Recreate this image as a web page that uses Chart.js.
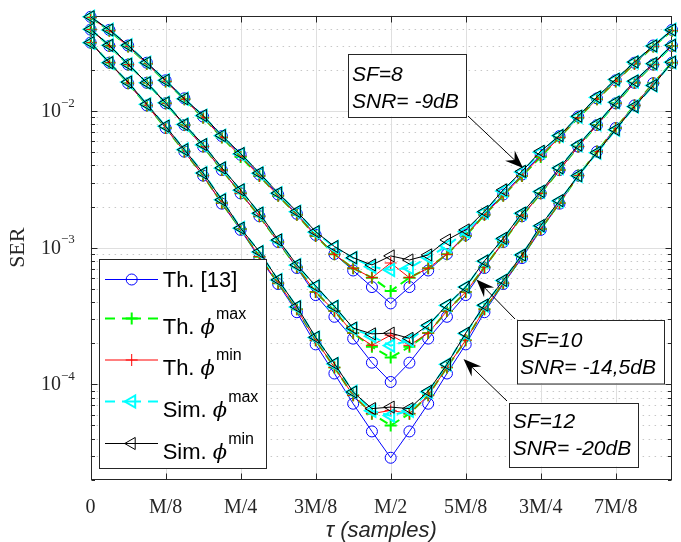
<!DOCTYPE html>
<html><head><meta charset="utf-8">
<script src="https://cdn.jsdelivr.net/npm/chart.js@4.4.0/dist/chart.umd.min.js"></script>
<style>html,body{margin:0;padding:0;background:#fff;}#wrap{width:681px;height:542px;position:relative;}</style>
</head><body><div id="wrap"><canvas id="c" width="681" height="542"></canvas></div>
<script>
// ---- categories: tau in units of M/32 ----
const TAU = [0,1,2,3,4,5,6,7,8,9,10,11,12,13,14,15,16,17,18,19,20,21,22,23,24,25,26,27,28,29,30,31];
const X_TICK_VALUES = [0,4,8,12,16,20,24,28];
const X_TICK_LABELS = ['0','M/8','M/4','3M/8','M/2','5M/8','3M/4','7M/8'];
const Y_DECADES = [1e-4,1e-3,1e-2];
const Y_DECADE_EXP = ['\u22124','\u22123','\u22122'];
const Y_MIN = 2e-5, Y_MAX = 5e-2;

// ---- SF=8, SNR=-9dB ----
const SF8_TH_REF = [4.9e-2,3.93e-2,3.02e-2,2.26e-2,1.68e-2,1.24e-2,9.12e-3,6.56e-3,4.79e-3,3.43e-3,2.45e-3,1.77e-3,1.24e-3,8.99e-4,6.81e-4,5.15e-4,3.91e-4,5.15e-4,6.81e-4,8.99e-4,1.24e-3,1.77e-3,2.45e-3,3.43e-3,4.79e-3,6.56e-3,9.12e-3,1.24e-2,1.68e-2,2.26e-2,3.02e-2,3.93e-2];
const SF8_TH_MAX = [4.85e-2,3.88e-2,2.97e-2,2.22e-2,1.65e-2,1.22e-2,8.95e-3,6.42e-3,4.62e-3,3.35e-3,2.40e-3,1.74e-3,1.22e-3,8.95e-4,7.08e-4,6.03e-4,4.82e-4,6.03e-4,7.08e-4,8.95e-4,1.22e-3,1.74e-3,2.40e-3,3.35e-3,4.62e-3,6.42e-3,8.95e-3,1.22e-2,1.65e-2,2.22e-2,2.97e-2,3.88e-2];
const SF8_TH_MIN = [4.85e-2,3.88e-2,2.97e-2,2.22e-2,1.65e-2,1.22e-2,8.95e-3,6.42e-3,4.68e-3,3.35e-3,2.40e-3,1.74e-3,1.22e-3,8.95e-4,7.08e-4,6.03e-4,7.73e-4,6.03e-4,7.08e-4,8.95e-4,1.22e-3,1.74e-3,2.40e-3,3.35e-3,4.68e-3,6.42e-3,8.95e-3,1.22e-2,1.65e-2,2.22e-2,2.97e-2,3.88e-2];
const SF8_SIM_MAX = [4.9e-2,3.93e-2,3.03e-2,2.26e-2,1.68e-2,1.23e-2,9.25e-3,6.60e-3,4.85e-3,3.50e-3,2.50e-3,1.83e-3,1.30e-3,1.01e-3,8.40e-4,7.26e-4,6.87e-4,7.11e-4,8.50e-4,1.03e-3,1.31e-3,1.82e-3,2.60e-3,3.58e-3,5.00e-3,6.60e-3,9.10e-3,1.26e-2,1.70e-2,2.28e-2,3.00e-2,3.93e-2];
const SF8_SIM_MIN = [4.9e-2,3.93e-2,3.03e-2,2.26e-2,1.68e-2,1.23e-2,9.29e-3,6.62e-3,4.89e-3,3.52e-3,2.51e-3,1.84e-3,1.31e-3,1.02e-3,8.45e-4,7.48e-4,8.71e-4,8.13e-4,8.85e-4,1.14e-3,1.35e-3,1.84e-3,2.65e-3,3.62e-3,5.08e-3,6.62e-3,9.18e-3,1.27e-2,1.71e-2,2.29e-2,3.00e-2,3.93e-2];

// ---- SF=10, SNR=-14,5dB ----
const SF10_TH_REF = [3.95e-2,3.0e-2,2.19e-2,1.61e-2,1.14e-2,7.9e-3,5.5e-3,3.70e-3,2.50e-3,1.70e-3,1.10e-3,7.1e-4,4.5e-4,3.12e-4,2.16e-4,1.44e-4,1.04e-4,1.44e-4,2.16e-4,3.12e-4,4.5e-4,7.1e-4,1.10e-3,1.70e-3,2.50e-3,3.70e-3,5.5e-3,7.9e-3,1.14e-2,1.61e-2,2.19e-2,3.0e-2];
const SF10_TH_MAX = [3.95e-2,3.0e-2,2.19e-2,1.61e-2,1.14e-2,7.9e-3,5.5e-3,3.70e-3,2.50e-3,1.70e-3,1.10e-3,7.2e-4,4.74e-4,3.44e-4,2.37e-4,1.88e-4,1.57e-4,1.88e-4,2.37e-4,3.44e-4,4.74e-4,7.2e-4,1.10e-3,1.70e-3,2.50e-3,3.70e-3,5.5e-3,7.9e-3,1.14e-2,1.61e-2,2.19e-2,3.0e-2];
const SF10_TH_MIN = [3.95e-2,3.0e-2,2.19e-2,1.61e-2,1.14e-2,7.9e-3,5.5e-3,3.70e-3,2.50e-3,1.70e-3,1.10e-3,7.2e-4,4.74e-4,3.44e-4,2.37e-4,1.93e-4,2.29e-4,1.93e-4,2.37e-4,3.44e-4,4.74e-4,7.2e-4,1.10e-3,1.70e-3,2.50e-3,3.70e-3,5.5e-3,7.9e-3,1.14e-2,1.61e-2,2.19e-2,3.0e-2];
const SF10_SIM_MAX = [3.97e-2,3.03e-2,2.20e-2,1.61e-2,1.15e-2,7.98e-3,5.65e-3,3.82e-3,2.63e-3,1.78e-3,1.13e-3,7.45e-4,5.20e-4,3.70e-4,2.55e-4,2.25e-4,1.92e-4,2.10e-4,2.68e-4,3.78e-4,5.15e-4,7.95e-4,1.16e-3,1.78e-3,2.57e-3,3.83e-3,5.62e-3,8.00e-3,1.16e-2,1.65e-2,2.22e-2,3.03e-2];
const SF10_SIM_MIN = [3.97e-2,3.03e-2,2.20e-2,1.61e-2,1.15e-2,7.98e-3,5.69e-3,3.84e-3,2.65e-3,1.79e-3,1.14e-3,7.48e-4,5.25e-4,3.72e-4,2.58e-4,2.34e-4,2.37e-4,2.17e-4,2.71e-4,3.80e-4,5.15e-4,8.00e-4,1.17e-3,1.79e-3,2.58e-3,3.84e-3,5.64e-3,8.04e-3,1.16e-2,1.66e-2,2.23e-2,3.03e-2];

// ---- SF=12, SNR=-20dB ----
const SF12_TH_REF = [3.17e-2,2.26e-2,1.60e-2,1.10e-2,7.52e-3,5.05e-3,3.37e-3,2.10e-3,1.35e-3,8.40e-4,5.42e-4,3.37e-4,1.96e-4,1.20e-4,7.21e-5,4.52e-5,2.90e-5,4.52e-5,7.21e-5,1.20e-4,1.96e-4,3.37e-4,5.42e-4,8.40e-4,1.35e-3,2.10e-3,3.37e-3,5.05e-3,7.52e-3,1.10e-2,1.60e-2,2.26e-2];
const SF12_TH_MAX = [3.17e-2,2.26e-2,1.60e-2,1.10e-2,7.52e-3,5.05e-3,3.37e-3,2.12e-3,1.37e-3,8.6e-4,5.5e-4,3.55e-4,2.10e-4,1.33e-4,8.3e-5,6.1e-5,5.0e-5,6.1e-5,8.3e-5,1.33e-4,2.10e-4,3.55e-4,5.5e-4,8.6e-4,1.37e-3,2.12e-3,3.37e-3,5.05e-3,7.52e-3,1.10e-2,1.60e-2,2.26e-2];
const SF12_TH_MIN = [3.17e-2,2.26e-2,1.60e-2,1.10e-2,7.52e-3,5.05e-3,3.37e-3,2.12e-3,1.37e-3,8.6e-4,5.5e-4,3.55e-4,2.10e-4,1.33e-4,8.3e-5,6.1e-5,6.44e-5,6.1e-5,8.3e-5,1.33e-4,2.10e-4,3.55e-4,5.5e-4,8.6e-4,1.37e-3,2.12e-3,3.37e-3,5.05e-3,7.52e-3,1.10e-2,1.60e-2,2.26e-2];
const SF12_SIM_MAX = [3.17e-2,2.26e-2,1.63e-2,1.12e-2,7.75e-3,5.22e-3,3.52e-3,2.24e-3,1.39e-3,9.3e-4,5.8e-4,3.68e-4,2.2e-4,1.41e-4,8.8e-5,6.4e-5,5.9e-5,6.4e-5,8.8e-5,1.40e-4,2.35e-4,3.78e-4,5.75e-4,8.85e-4,1.44e-3,2.20e-3,3.36e-3,4.95e-3,7.3e-3,1.08e-2,1.54e-2,2.28e-2];
const SF12_SIM_MIN = [3.17e-2,2.26e-2,1.63e-2,1.12e-2,7.75e-3,5.22e-3,3.52e-3,2.24e-3,1.39e-3,9.35e-4,5.81e-4,3.70e-4,2.21e-4,1.42e-4,8.78e-5,6.64e-5,6.81e-5,6.64e-5,8.89e-5,1.40e-4,2.37e-4,3.80e-4,5.76e-4,8.85e-4,1.45e-3,2.21e-3,3.37e-3,4.97e-3,7.33e-3,1.08e-2,1.54e-2,2.28e-2];

const SERIES_LABELS = ['Th. [13]','Th. \u03D5max','Th. \u03D5min','Sim. \u03D5max','Sim. \u03D5min'];

// ---- styles ----
const STYLE = {
  ref:   {color:'#0000ff', pointStyle:'circle',   radius:5.5, pbw:1, bw:1, dash:[],    rot:0},
  tmax:  {color:'#00ff00', pointStyle:'cross',    radius:6,   pbw:2, bw:2, dash:[9,5], rot:0},
  tmin:  {color:'#ff0000', pointStyle:'cross',    radius:6,   pbw:1, bw:1, dash:[],    rot:0},
  smax:  {color:'#00ffff', pointStyle:'triangle', radius:7,   pbw:2, bw:2, dash:[9,5], rot:-90},
  smin:  {color:'#000000', pointStyle:'triangle', radius:7,   pbw:1, bw:1, dash:[],    rot:-90}
};
function ds(vals, st){
  const s = STYLE[st];
  return {
    data: TAU.map((t,i)=>({x:t, y:vals[i]})),
    borderColor:s.color, borderWidth:s.bw, borderDash:s.dash,
    pointStyle:s.pointStyle, pointRadius:s.radius, pointHoverRadius:s.radius,
    pointBorderWidth:s.pbw, pointBorderColor:s.color, pointBackgroundColor:'rgba(0,0,0,0)',
    pointRotation:s.rot, fill:false, tension:0, clip:false
  };
}
// index 0 is drawn on top
const datasets = [
  ds(SF8_SIM_MIN,'smin'), ds(SF10_SIM_MIN,'smin'), ds(SF12_SIM_MIN,'smin'),
  ds(SF8_SIM_MAX,'smax'), ds(SF10_SIM_MAX,'smax'), ds(SF12_SIM_MAX,'smax'),
  ds(SF8_TH_MIN,'tmin'),  ds(SF10_TH_MIN,'tmin'),  ds(SF12_TH_MIN,'tmin'),
  ds(SF8_TH_MAX,'tmax'),  ds(SF10_TH_MAX,'tmax'),  ds(SF12_TH_MAX,'tmax'),
  ds(SF8_TH_REF,'ref'),   ds(SF10_TH_REF,'ref'),   ds(SF12_TH_REF,'ref')
];

const AXC = '#262626';
function seg(ctx,x1,y1,x2,y2){ctx.beginPath();ctx.moveTo(x1,y1);ctx.lineTo(x2,y2);ctx.stroke();}

function drawMarker(ctx, st, x, y){
  const s = STYLE[st];
  ctx.save();
  ctx.strokeStyle = s.color; ctx.lineWidth = s.pbw; ctx.setLineDash([]);
  const r = s.radius;
  ctx.beginPath();
  if (s.pointStyle==='circle'){ ctx.arc(x,y,r,0,Math.PI*2); }
  else if (s.pointStyle==='cross'){ ctx.moveTo(x-r,y);ctx.lineTo(x+r,y);ctx.moveTo(x,y-r);ctx.lineTo(x,y+r); }
  else { ctx.moveTo(x-r,y); ctx.lineTo(x+r*0.5,y-r*0.866); ctx.lineTo(x+r*0.5,y+r*0.866); ctx.closePath(); }
  ctx.stroke();
  ctx.restore();
}

function arrow(ctx, x1,y1,x2,y2){
  const dx=x2-x1, dy=y2-y1, L=Math.hypot(dx,dy), ux=dx/L, uy=dy/L, nx=-uy, ny=ux;
  const HL=18, HW=7;
  ctx.save();
  ctx.strokeStyle='#000'; ctx.fillStyle='#000'; ctx.lineWidth=1;
  seg(ctx,x1,y1,x2-ux*HL*0.6,y2-uy*HL*0.6);
  ctx.beginPath();
  ctx.moveTo(x2,y2);
  ctx.lineTo(x2-ux*HL+nx*HW, y2-uy*HL+ny*HW);
  ctx.lineTo(x2-ux*HL*0.65, y2-uy*HL*0.65);
  ctx.lineTo(x2-ux*HL-nx*HW, y2-uy*HL-ny*HW);
  ctx.closePath(); ctx.fill();
  ctx.restore();
}

const framePlugin = {
  id:'frame',
  beforeDatasetsDraw(chart){
    const {ctx, chartArea:a, scales:{x,y}} = chart;
    ctx.save();
    ctx.lineWidth = 1;
    // minor dotted grid
    ctx.strokeStyle='rgb(200,200,200)'; ctx.setLineDash([1.5,4.5]);
    for (let d=-5; d<=-2; d++) for (let m=2; m<=9; m++){
      const v = m*Math.pow(10,d);
      if (v<=Y_MIN*1.0001 || v>=Y_MAX*0.9999) continue;
      const py = Math.round(y.getPixelForValue(v))+0.5;
      seg(ctx,a.left,py,a.right,py);
    }
    // major grid
    ctx.setLineDash([]); ctx.strokeStyle='rgb(223,223,223)';
    X_TICK_VALUES.forEach(v=>{ if(v===0) return; const px=Math.round(x.getPixelForValue(v))+0.5; seg(ctx,px,a.top,px,a.bottom); });
    Y_DECADES.forEach(v=>{ const py=Math.round(y.getPixelForValue(v))+0.5; seg(ctx,a.left,py,a.right,py); });
    // box
    ctx.strokeStyle=AXC;
    const L=Math.round(a.left)+0.5, R=Math.round(a.right)-0.5, T=Math.round(a.top)+0.5, B=Math.round(a.bottom)-0.5;
    ctx.strokeRect(L,T,R-L,B-T);
    // x ticks
    X_TICK_VALUES.forEach(v=>{ const px=Math.round(x.getPixelForValue(v))+0.5; seg(ctx,px,B,px,B-6); seg(ctx,px,T,px,T+6); });
    // y ticks
    for (let d=-5; d<=-2; d++) for (let m=1; m<=9; m++){
      const v = m*Math.pow(10,d);
      if (v<Y_MIN || v>Y_MAX) continue;
      const py=Math.round(y.getPixelForValue(v))+0.5;
      const len = m===1?6:3.5;
      seg(ctx,L,py,L+len,py); seg(ctx,R,py,R-len,py);
    }
    ctx.restore();
  },
  afterDraw(chart){
    const {ctx, scales:{y}} = chart;
    ctx.save();
    // y tick labels 10^-k
    ctx.fillStyle=AXC; ctx.textBaseline='alphabetic'; ctx.textAlign='left';
    Y_DECADES.forEach((v,i)=>{
      const py=y.getPixelForValue(v);
      ctx.font='20px "Liberation Serif"';
      ctx.fillText('10',41,py+6);
      ctx.font='13px "Liberation Serif"';
      ctx.fillText(Y_DECADE_EXP[i],61,py-4.5);
    });
    // legend
    ctx.fillStyle='#fff'; ctx.fillRect(99,259,167,209);
    ctx.strokeStyle=AXC; ctx.lineWidth=1; ctx.strokeRect(99.5,259.5,167,209);
    const rows=[['ref',279.5],['tmax',318.5],['tmin',360],['smax',401.5],['smin',443.5]];
    const words=['Th.','Th.','Th.','Sim.','Sim.'];
    const sups=[null,'max','min','max','min'];
    rows.forEach(([st,ly],i)=>{
      const s=STYLE[st];
      ctx.save();
      ctx.strokeStyle=s.color; ctx.lineWidth=s.bw;
      if (s.dash.length){ seg(ctx,105,ly,115,ly); seg(ctx,122,ly,141,ly); seg(ctx,148,ly,158,ly); }
      else seg(ctx,105,ly,158,ly);
      ctx.restore();
      drawMarker(ctx,st,131.7,ly);
      ctx.fillStyle='#000';
      if (i===0){
        ctx.font='22px "Liberation Sans"'; ctx.fillText('Th. [13]',162.7,ly+7.5);
      } else {
        const base=ly+15;
        ctx.font='22px "Liberation Sans"';
        const w1=ctx.measureText(words[i]+' ').width;
        ctx.fillText(words[i]+' ',162.7,base);
        ctx.font='italic 21px "DejaVu Serif"';
        const w2=ctx.measureText('\u03D5').width;
        ctx.fillText('\u03D5',162.7+w1,base);
        ctx.font='16px "Liberation Sans"';
        ctx.fillText(sups[i],162.7+w1+w2+1,ly);
      }
    });
    // annotation boxes
    const boxes=[
      {x:348,y:53.5,w:118,h:63,lines:['SF=8','SNR= -9dB'],tx:352,b:[80.7,108.3]},
      {x:516.5,y:320,w:147,h:63.5,lines:['SF=10','SNR= -14,5dB'],tx:520,b:[346.7,374]},
      {x:509,y:402.5,w:129,h:64,lines:['SF=12','SNR= -20dB'],tx:512.7,b:[428.3,455]}
    ];
    arrow(ctx,468,116,523,168);
    arrow(ctx,515,319,476.5,279.5);
    arrow(ctx,507,401,463.5,359);
    boxes.forEach(bx=>{
      ctx.fillStyle='#fff'; ctx.fillRect(bx.x,bx.y,bx.w,bx.h);
      ctx.strokeStyle=AXC; ctx.lineWidth=1; ctx.strokeRect(Math.round(bx.x)+0.5,Math.round(bx.y)+0.5,bx.w,bx.h);
      ctx.fillStyle='#000'; ctx.font='italic 21px "Liberation Sans"';
      ctx.fillText(bx.lines[0],bx.tx,bx.b[0]);
      ctx.fillText(bx.lines[1],bx.tx,bx.b[1]);
    });
    ctx.restore();
  }
};

new Chart(document.getElementById('c'), {
  type:'line',
  data:{datasets},
  options:{
    responsive:false, animation:false, devicePixelRatio:1, events:[],
    layout:{padding:{left:0,right:6.5,top:15.6,bottom:0}},
    plugins:{legend:{display:false}, tooltip:{enabled:false}},
    scales:{
      x:{type:'linear', min:0, max:31,
         afterBuildTicks:(s)=>{ s.ticks = X_TICK_VALUES.map(v=>({value:v})); },
         afterFit:(s)=>{ s.height = 62.2; },
         grid:{display:false, drawTicks:false}, border:{display:false},
         ticks:{autoSkip:false, maxRotation:0, padding:16, color:AXC,
                font:{family:'Liberation Serif', size:20},
                callback:(v)=>{ const i=X_TICK_VALUES.indexOf(v); return i>=0?X_TICK_LABELS[i]:''; }},
         title:{display:true, text:'\u03C4 (samples)', color:AXC, padding:{top:0,bottom:0},
                font:{family:'Liberation Sans', size:22, style:'italic', lineHeight:1.0}}
      },
      y:{type:'logarithmic', min:Y_MIN, max:Y_MAX,
         afterFit:(s)=>{ s.width = 90.6; },
         grid:{display:false, drawTicks:false}, border:{display:false},
         ticks:{display:false},
         title:{display:true, text:'SER', color:AXC, padding:{top:5,bottom:0},
                font:{family:'Liberation Serif', size:22}}
      }
    }
  },
  plugins:[framePlugin]
});
</script></body></html>
